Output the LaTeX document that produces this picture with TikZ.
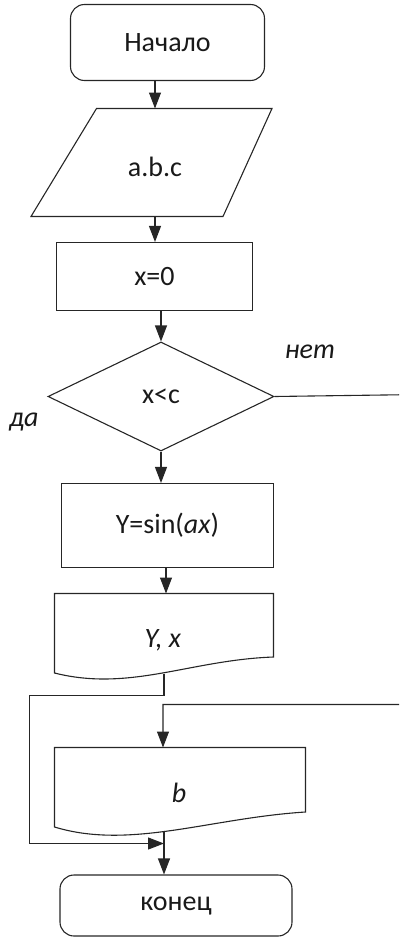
\documentclass[tikz,border=0pt]{standalone}
\usepackage{fontspec}
\setmainfont{Carlito}
\usetikzlibrary{arrows.meta,shapes.geometric}
\colorlet{ln}{black!85}
\begin{document}
\begin{tikzpicture}[x=1pt,y=-1pt,
  line width=1.1pt, draw=ln,
  every node/.style={font=\fontsize{28}{33}\selectfont, inner sep=0pt, text=black!90},
  box/.style={draw=ln, rectangle},
  term/.style={draw=ln, rectangle, rounded corners=14pt},
  cond/.style={draw=ln, diamond},
  arr/.style={-{Triangle[length=16pt,width=12pt]}},
  lbl/.style={font=\fontsize{28}{33}\selectfont\itshape},
]
\useasboundingbox (0,0) rectangle (399,937);
\clip (0,0) rectangle (399,937);

% start
\node[term, minimum width=194pt, minimum height=76pt] (start) at (167.5,42.5) {Начало};

% input parallelogram
\draw (96.5,108.5) -- (272,108.5) -- (223,216.5) -- (31,216.5) -- cycle;
\node (io) at (155,167) {a.b.c};
\coordinate (iotop) at (155,108.5);
\coordinate (iobot) at (155,216.5);

% x=0
\node[box, minimum width=196pt, minimum height=68pt] (init) at (154.5,276.5) {x=0};

% decision
\node[cond, minimum width=226pt, minimum height=109pt] (dec) at (161,396.5) {x<c};
\node[lbl] (no) at (310,352) {нет};
\node[lbl] (yes) at (24,422) {да};

% Y=sin(ax)
\node[box, minimum width=212pt, minimum height=84pt] (calc) at (167.5,525.5) {Y=sin(\textit{ax})};

% document Y, x
\draw (54.5,593.5) -- (273.5,593.5) -- (273.5,657) .. controls (190,660) and (130,692) .. (54.5,673) -- cycle;
\node (out1) at (163,640) {\textit{Y, x}};
\coordinate (out1top) at (166,593.5);
\coordinate (out1bot) at (164,673.5);

% document b
\draw (54.5,747.5) -- (305.5,747.5) -- (305.5,812) .. controls (210,818) and (130,850) .. (54.5,827) -- cycle;
\node (out2) at (179,793) {\textit{b}};
\coordinate (out2top) at (163,747.5);
\coordinate (out2bot) at (164,830.5);

% end
\node[term, minimum width=232pt, minimum height=61pt] (stop) at (176,905.5) {конец};

% connectors
\draw[arr] (start.south -| iotop) -- (iotop);
\draw[arr] (iobot) -- (init.north -| iobot);
\draw[arr] (init.south -| dec.north) -- (dec.north);
\draw[arr] (dec.south) -- (calc.north -| dec.south);
\draw[arr] (calc.south -| out1top) -- (out1top);
\coordinate (join) at (164,843.5);
\draw[arr] (out1bot) -- (164,695.5) -- (29.5,695.5) -- (29.5,843.5) -- (join);
\draw[arr] (dec.east) -- (420,394.5) -- (420,704.5) -- (163,704.5) -- (out2top);
\draw[arr] (out2bot) -- (stop.north -| out2bot);
\end{tikzpicture}
\end{document}
